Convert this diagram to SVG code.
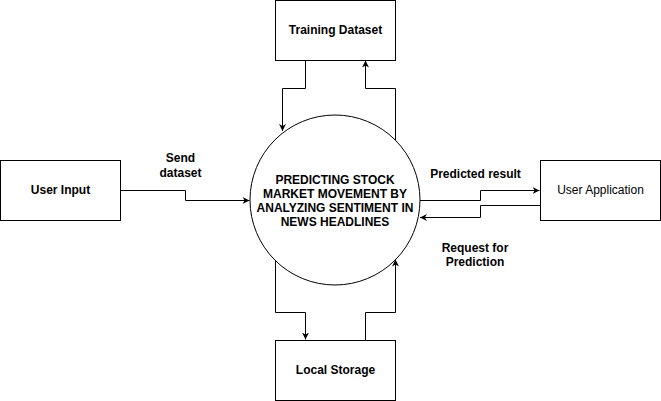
<svg xmlns="http://www.w3.org/2000/svg" width="661" height="401" viewBox="0 0 661 401">
<style>
.box{fill:#fff;stroke:#000;stroke-width:1}
.lbl{font-family:"Liberation Sans",Arial,sans-serif;font-size:12px;fill:#000;text-anchor:middle}
.b{font-weight:bold}
.edge{fill:none;stroke:#000;stroke-width:1}
</style>
<defs>
<marker id="arr" viewBox="0 0 10 10" refX="10" refY="5" markerWidth="7" markerHeight="7" markerUnits="userSpaceOnUse" orient="auto">
<path d="M0,0 L10,5 L0,10 L3,5 Z" fill="#000"/>
</marker>
</defs>
<rect x="0" y="0" width="661" height="401" fill="#fff"/>
<g id="connectors">
<path class="edge" d="M305.5,60 V88.5 H282.5 V131" marker-end="url(#arr)"/>
<path class="edge" d="M395.5,140 V88.5 H365.5 V60.5" marker-end="url(#arr)"/>
<path class="edge" d="M275.5,260 V312.5 H305.5 V339.5" marker-end="url(#arr)"/>
<path class="edge" d="M365.5,340 V312.5 H395.5 V259.5" marker-end="url(#arr)"/>
<path class="edge" d="M120,190.5 H185.5 V200.5 H249.5" marker-end="url(#arr)"/>
<path class="edge" d="M420,200.5 H480.5 V190.5 H539.5" marker-end="url(#arr)"/>
<path class="edge" d="M540,205.5 H480.5 V217.5 H420" marker-end="url(#arr)"/>
<text class="lbl b" x="180.5" y="162">Send</text>
<text class="lbl b" x="180.5" y="177">dataset</text>
<text class="lbl b" x="475.5" y="178">Predicted result</text>
<text class="lbl b" x="475" y="252">Request for</text>
<text class="lbl b" x="475" y="266">Prediction</text>
</g>
<g id="process">
<circle class="box" cx="335" cy="200" r="85"/>
<text class="lbl b" x="335" y="184">PREDICTING STOCK</text>
<text class="lbl b" x="335" y="198">MARKET MOVEMENT BY</text>
<text class="lbl b" x="335" y="212">ANALYZING SENTIMENT IN</text>
<text class="lbl b" x="335" y="226">NEWS HEADLINES</text>
</g>
<g id="training-dataset">
<rect class="box" x="275.5" y="0.5" width="120" height="60"/>
<text class="lbl b" x="335.5" y="34">Training Dataset</text>
</g>
<g id="user-input">
<rect class="box" x="0.5" y="160.5" width="120" height="60"/>
<text class="lbl b" x="60.5" y="194">User Input</text>
</g>
<g id="user-application">
<rect class="box" x="540.5" y="160.5" width="120" height="60"/>
<text class="lbl" x="600.5" y="194">User Application</text>
</g>
<g id="local-storage">
<rect class="box" x="275.5" y="340.5" width="120" height="60"/>
<text class="lbl b" x="335.5" y="374">Local Storage</text>
</g>
</svg>
